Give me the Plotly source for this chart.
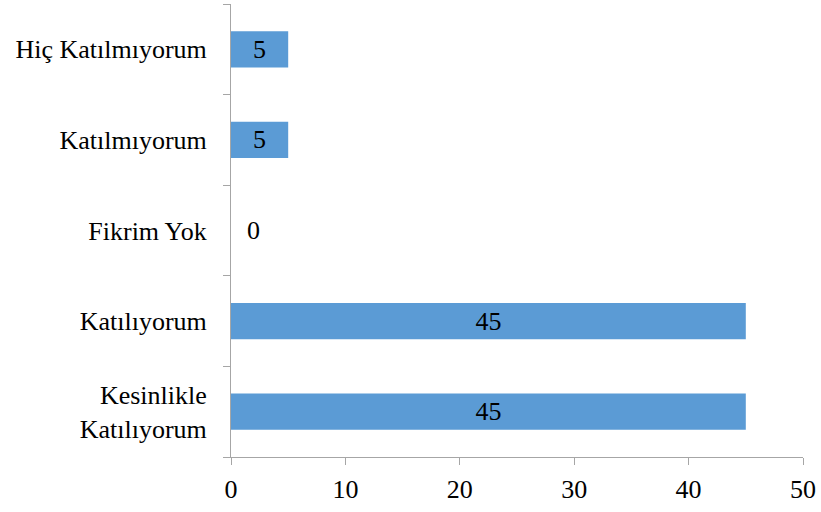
import plotly.graph_objects as go

categories = ["Kesinlikle<br>Katılıyorum", "Katılıyorum", "Fikrim Yok", "Katılmıyorum", "Hiç Katılmıyorum"]
values = [45, 45, 0, 5, 5]
x_ticks = [0, 10, 20, 30, 40, 50]

FONT = "Times New Roman"
AXIS = "#a6a6a6"
FS = 26

fig = go.Figure(go.Bar(
    x=values, y=categories, orientation="h",
    marker=dict(color="#5b9bd5", line=dict(width=0)),
    text=[str(v) if v > 0 else "" for v in values],
    textposition="inside",
    insidetextanchor="middle",
    textfont=dict(family=FONT, size=FS, color="black"),
    cliponaxis=False,
))

for v, c in zip(values, categories):
    if v == 0:
        fig.add_annotation(x=v, y=c, text=str(v), showarrow=False,
                           xanchor="left", xshift=14,
                           font=dict(family=FONT, size=FS, color="black"))

fig.update_layout(
    width=821, height=512,
    margin=dict(l=231, r=18, t=4, b=55),
    paper_bgcolor="white", plot_bgcolor="white",
    bargap=0.6, showlegend=False,
    font=dict(family=FONT, size=FS, color="black"),
)
fig.update_xaxes(
    range=[0, 50], tickvals=x_ticks, showgrid=False, zeroline=False,
    showline=True, linecolor=AXIS, linewidth=1, automargin=False,
    ticks="outside", ticklen=7, tickcolor=AXIS, ticklabelstandoff=2,
    tickfont=dict(family=FONT, size=FS, color="black"),
)
fig.update_yaxes(
    type="category", categoryorder="array", categoryarray=categories,
    showgrid=False, zeroline=False, automargin=False,
    showline=True, linecolor=AXIS, linewidth=1,
    ticks="outside", ticklen=7, tickcolor=AXIS, tickson="boundaries",
    ticklabelstandoff=18,
    tickfont=dict(family=FONT, size=FS, color="black"),
)

fig.write_html("out.html", config={"displayModeBar": False},
               post_script="document.body.style.margin='0';")
